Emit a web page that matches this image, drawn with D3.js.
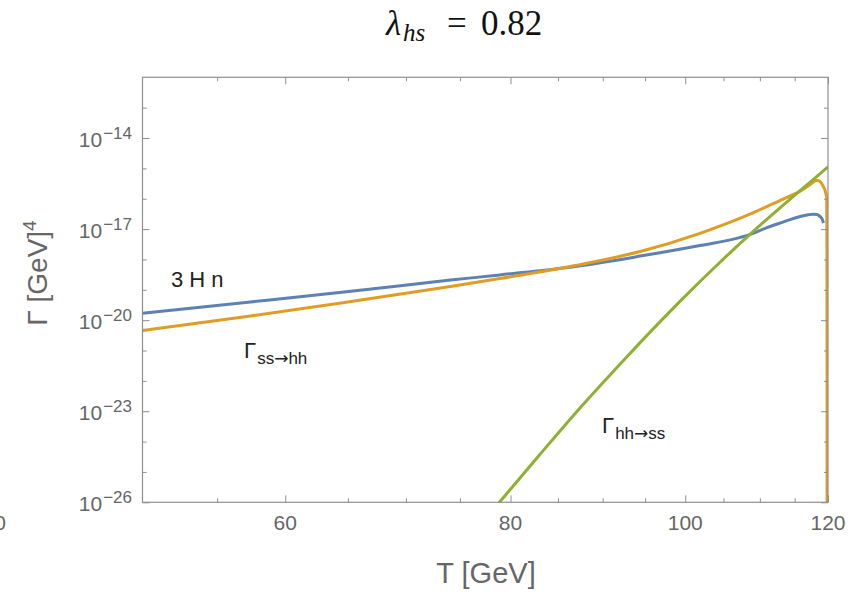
<!DOCTYPE html>
<html>
<head>
<meta charset="utf-8">
<script src="https://cdn.jsdelivr.net/npm/d3@7"></script>
<style>
  html, body { margin: 0; padding: 0; background: #fff; }
  svg { display: block; }
</style>
</head>
<body>
<svg id="chart" width="859" height="592"></svg>
<script>
// ---------------- data ----------------
// Temperatures T [GeV] and rates as log10(Γ / GeV^4)
const hubbleT    = [50, 57.4, 64.3, 74.1, 78.9, 86.9, 94.4, 101.9, 107.2, 108.6, 110.9, 113.3, 115.3, 117.0, 117.7, 118.3, 118.8, 119.17, 119.3];
const hubbleLog  = [-19.77, -19.40, -19.09, -18.68, -18.51, -18.23, -17.89, -17.54, -17.28, -17.18, -16.96, -16.77, -16.62, -16.53, -16.51, -16.52, -16.59, -16.70, -16.80];

const ssToHhT    = [50, 57.4, 64.3, 74.1, 78.9, 86.9, 94.4, 101.9, 107.2, 108.6, 113.3, 115.8, 117.3, 117.9, 118.3, 118.8, 119.24, 119.62, 119.8, 119.83, 119.85, 119.86];
const ssToHhLog  = [-20.34, -19.86, -19.44, -18.89, -18.63, -18.20, -17.74, -17.14, -16.65, -16.51, -16.01, -15.75, -15.53, -15.43, -15.39, -15.43, -15.58, -15.78, -15.98, -17.5, -20.0, -27.0];

const hhToSsT    = [77.9, 78.9, 83.1, 87.4, 92.0, 94.4, 99.3, 104.5, 109.0, 114.3, 117.7, 120];
const hhToSsLog  = [-26.38, -25.99, -24.41, -22.90, -21.45, -20.74, -19.39, -18.10, -17.09, -16.02, -15.38, -14.95];

const xMajorTicks = [60, 80, 100, 120];
const xMinorTicks = [55, 65, 70, 75, 85, 90, 95, 105, 110, 115];
const yMajorExp   = [-14, -17, -20, -23, -26];
const yMinorExp   = [-13, -15, -16, -18, -19, -21, -22, -24, -25];

const seriesColors = ["#5E81B5", "#E19C24", "#8FB032"];

// ---------------- layout ----------------
const svg = d3.select("#chart");
const L = 142.5, R = 828, T0 = 77.3, B = 502.3;

const x = d3.scaleLog().domain([50, 120]).range([L, R]);
const y = d3.scaleLog().domain([1e-26, 1e-12]).range([B, T0]);

const frameColor = "#8f8f8f";
const labelColor = "#666666";
const sans = "'Liberation Sans', Arial, Helvetica, sans-serif";
const arrowFont = "'DejaVu Sans', sans-serif";

svg.append("defs").append("clipPath").attr("id", "clip")
  .append("rect").attr("x", L).attr("y", T0).attr("width", R - L).attr("height", B - T0);

// ---------------- curves ----------------
const line = d3.line()
  .x(d => x(d[0]))
  .y(d => y(Math.pow(10, d[1])))
  .curve(d3.curveMonotoneX);

const series = [
  { t: hubbleT, v: hubbleLog, c: seriesColors[0] },
  { t: ssToHhT, v: ssToHhLog, c: seriesColors[1] },
  { t: hhToSsT, v: hhToSsLog, c: seriesColors[2] }
];

const gLines = svg.append("g").attr("clip-path", "url(#clip)");
series.forEach(s => {
  gLines.append("path")
    .datum(s.t.map((t, i) => [t, s.v[i]]))
    .attr("fill", "none")
    .attr("stroke", s.c)
    .attr("stroke-width", 3)
    .attr("stroke-linejoin", "round")
    .attr("d", line);
});

// ---------------- frame & ticks ----------------
function styleAxis(g) {
  g.selectAll(".domain").remove();
  g.selectAll(".tick line").attr("stroke", frameColor).attr("stroke-width", 1);
  g.selectAll(".tick text").remove();
}
const yMaj = yMajorExp.map(e => Math.pow(10, e));
const yMin = yMinorExp.map(e => Math.pow(10, e));

[[d3.axisBottom, B], [d3.axisTop, T0]].forEach(([ax, pos]) => {
  svg.append("g").attr("transform", `translate(0,${pos})`)
    .call(ax(x).tickValues(xMajorTicks).tickSize(-7).tickFormat("")).call(styleAxis);
  svg.append("g").attr("transform", `translate(0,${pos})`)
    .call(ax(x).tickValues(xMinorTicks).tickSize(-4).tickFormat("")).call(styleAxis);
});
[[d3.axisLeft, L], [d3.axisRight, R]].forEach(([ax, pos]) => {
  svg.append("g").attr("transform", `translate(${pos},0)`)
    .call(ax(y).tickValues(yMaj).tickSize(-7).tickFormat("")).call(styleAxis);
  svg.append("g").attr("transform", `translate(${pos},0)`)
    .call(ax(y).tickValues(yMin).tickSize(-4).tickFormat("")).call(styleAxis);
});

svg.append("rect")
  .attr("x", L).attr("y", T0).attr("width", R - L).attr("height", B - T0)
  .attr("fill", "none").attr("stroke", frameColor).attr("stroke-width", 1.2);

// x tick labels
svg.append("g").selectAll("text").data(xMajorTicks).join("text")
  .attr("x", d => x(d)).attr("y", B + 28)
  .attr("text-anchor", "middle")
  .attr("font-family", sans).attr("font-size", 21).attr("fill", labelColor)
  .text(d => d);
// partial label at the far left edge, as in the picture
svg.append("text").attr("x", 6).attr("y", B + 28).attr("text-anchor", "end")
  .attr("font-family", sans).attr("font-size", 21).attr("fill", labelColor).text("50");

// y tick labels 10^n
const yl = svg.append("g").selectAll("text").data(yMajorExp).join("text")
  .attr("x", 132).attr("y", d => y(Math.pow(10, d)) + 9)
  .attr("text-anchor", "end")
  .attr("font-family", sans).attr("font-size", 21).attr("fill", labelColor);
yl.append("tspan").text("10");
yl.append("tspan").attr("dy", -8).attr("dx", 1).attr("font-size", 17).text(d => "\u2212" + Math.abs(d));

// axis titles
svg.append("text").attr("x", 486).attr("y", 583).attr("text-anchor", "middle")
  .attr("font-family", sans).attr("font-size", 29).attr("fill", labelColor)
  .text("T [GeV]");

const yt = svg.append("text")
  .attr("transform", "translate(47,273) rotate(-90)")
  .attr("text-anchor", "middle")
  .attr("font-family", sans).attr("font-size", 28).attr("fill", labelColor);
yt.append("tspan").text("Γ [GeV]");
yt.append("tspan").attr("dy", -11).attr("font-size", 19).text("4");

// curve labels
svg.append("text").attr("x", 171).attr("y", 287)
  .attr("font-family", sans).attr("font-size", 22).attr("fill", "#222")
  .text("3 H n");

function rateLabel(px, py, a, b) {
  const t = svg.append("text").attr("x", px).attr("y", py)
    .attr("font-family", sans).attr("font-size", 22).attr("fill", "#222");
  t.append("tspan").text("Γ");
  t.append("tspan").attr("dy", 6).attr("dx", 1).attr("font-size", 17).text(a);
  t.append("tspan").attr("font-family", arrowFont).attr("font-size", 17).text("\u2192");
  t.append("tspan").attr("font-size", 17).text(b);
}
rateLabel(244, 358, "ss", "hh");
rateLabel(602, 433, "hh", "ss");

// title  λ_hs = 0.82
const serif = "'Liberation Serif', 'Times New Roman', serif";
const title = svg.append("text").attr("y", 35)
  .attr("font-family", serif).attr("font-size", 35).attr("fill", "#111");
title.append("tspan").attr("x", 386).attr("font-style", "italic").text("λ");
title.append("tspan").attr("x", 403).attr("dy", 6).attr("font-style", "italic").attr("font-size", 25).text("hs");
title.append("tspan").attr("x", 447).attr("dy", -6).text("=");
title.append("tspan").attr("x", 481).text("0.82");
</script>
</body>
</html>
